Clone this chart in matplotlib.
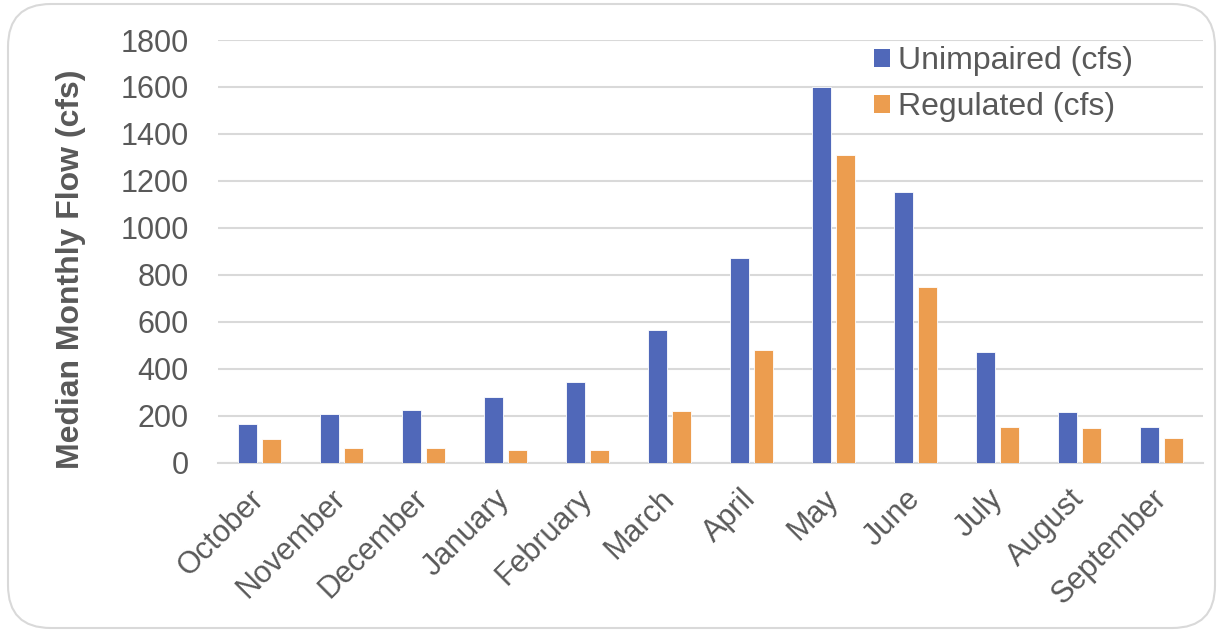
import matplotlib
matplotlib.use("Agg")
import matplotlib.pyplot as plt
from matplotlib.patches import FancyBboxPatch, Patch
import numpy as np

plt.rcParams['font.family'] = ['Liberation Sans', 'DejaVu Sans']

months = ["October", "November", "December", "January", "February", "March",
          "April", "May", "June", "July", "August", "September"]
unimpaired = [162, 208, 225, 281, 344, 563, 870, 1600, 1152, 471, 215, 151]
regulated = [98, 61, 61, 52, 52, 220, 481, 1308, 746, 151, 145, 106]
y_ticks = [0, 200, 400, 600, 800, 1000, 1200, 1400, 1600, 1800]

blue = "#5068B9"
orange = "#EC9D4F"
grid_col = "#D9D9D9"
text_col = "#595959"

fig = plt.figure(figsize=(12.22, 6.34), dpi=100)
fig.patch.set_facecolor("white")

# rounded frame around the whole chart
frame = FancyBboxPatch((8 / 1222, 6 / 634), 1207 / 1222, 624 / 634,
                       boxstyle="round,pad=0,rounding_size=0.035",
                       transform=fig.transFigure, facecolor="none",
                       edgecolor=grid_col, linewidth=1.5, zorder=-1,
                       mutation_aspect=1222 / 634)
fig.patches.append(frame)

ax = fig.add_axes([218 / 1222, 1 - 462.5 / 634, 985 / 1222, 422.5 / 634])
ax.set_facecolor("none")

x = np.arange(len(months))
w = 0.232
off = 0.146
ax.bar(x - off, unimpaired, width=w, color=blue, edgecolor="white",
       linewidth=0.6, label="Unimpaired (cfs)", zorder=3)
ax.bar(x + off, regulated, width=w, color=orange, edgecolor="white",
       linewidth=0.6, label="Regulated (cfs)", zorder=3)

ax.set_xlim(-0.5, len(months) - 0.5)
ax.set_ylim(0, 1800)
ax.set_yticks(y_ticks)
ax.set_yticklabels([str(v) for v in y_ticks])
ax.yaxis.grid(True, color=grid_col, linewidth=1.5, zorder=0)
ax.set_axisbelow(True)
for s in ["top", "right", "left"]:
    ax.spines[s].set_visible(False)
ax.spines["bottom"].set_color(grid_col)
ax.spines["bottom"].set_linewidth(1.5)
ax.tick_params(axis="both", length=0, labelsize=22, colors=text_col)
ax.tick_params(axis="y", pad=21)

ax.set_xticks(x)
ax.set_xticklabels(months, rotation=45, ha="right", rotation_mode="anchor",
                   va="center")
ax.tick_params(axis="x", pad=23)

ax.set_ylabel("Median Monthly Flow (cfs)", fontsize=23, fontweight="bold",
              color=text_col)
ax.yaxis.set_label_coords(-0.134, 0.458)

handles = [Patch(facecolor=blue, label="Unimpaired (cfs)"),
           Patch(facecolor=orange, label="Regulated (cfs)")]
ax.legend(handles=handles, loc="upper left", bbox_to_anchor=(0.66, 1.0),
          frameon=False, fontsize=23, handlelength=0.48, handleheight=0.48,
          handletextpad=0.25, labelspacing=0.5, labelcolor=text_col,
          borderaxespad=0.0, borderpad=0.2)

fig.savefig("out.png", dpi=100, facecolor="white")
